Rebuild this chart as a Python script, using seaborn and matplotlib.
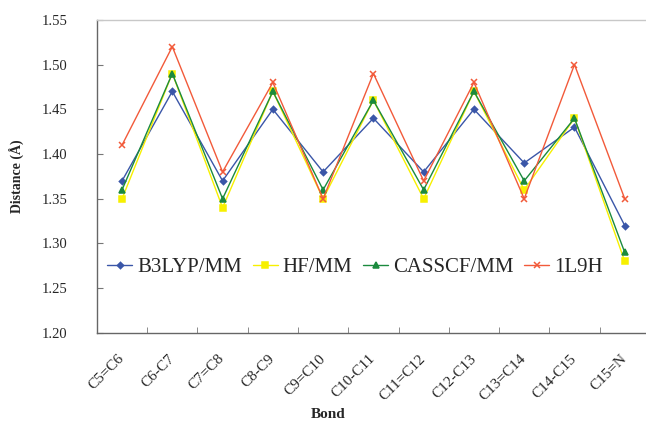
import numpy as np
import pandas as pd
import seaborn as sns
import matplotlib.pyplot as plt
from matplotlib.ticker import FixedLocator, NullFormatter

# =========================
# DATA
# =========================
bonds = ["C5=C6", "C6-C7", "C7=C8", "C8-C9", "C9=C10", "C10-C11",
         "C11=C12", "C12-C13", "C13=C14", "C14-C15", "C15=N"]
b3lyp = [1.37, 1.47, 1.37, 1.45, 1.38, 1.44, 1.38, 1.45, 1.39, 1.43, 1.32]
hf = [1.35, 1.49, 1.34, 1.47, 1.35, 1.46, 1.35, 1.47, 1.36, 1.44, 1.28]
casscf = [1.36, 1.49, 1.35, 1.47, 1.36, 1.46, 1.36, 1.47, 1.37, 1.44, 1.29]
l9h = [1.41, 1.52, 1.38, 1.48, 1.35, 1.49, 1.37, 1.48, 1.35, 1.50, 1.35]

series_names = ["B3LYP/MM", "HF/MM", "CASSCF/MM", "1L9H"]
y_ticks = [1.20, 1.25, 1.30, 1.35, 1.40, 1.45, 1.50, 1.55]

colors = {"B3LYP/MM": "#3a56a8", "HF/MM": "#f7f000",
          "CASSCF/MM": "#1b8a3e", "1L9H": "#f25a3a"}
markers = {"B3LYP/MM": "D", "HF/MM": "s", "CASSCF/MM": "^", "1L9H": "x"}
msizes = {"B3LYP/MM": 3.2, "HF/MM": 3.8, "CASSCF/MM": 4.2, "1L9H": 4.5}

rows = []
for name, vals in zip(series_names, [b3lyp, hf, casscf, l9h]):
    for i, v in enumerate(vals):
        rows.append({"pos": i, "bond": bonds[i], "value": v, "series": name})
df = pd.DataFrame(rows)

# =========================
# PLOT
# =========================
sns.set_style("white")
plt.rcParams['font.family'] = ['Liberation Serif', 'DejaVu Serif']

fig = plt.figure(figsize=(6.46, 4.22), dpi=100)
ax = fig.add_axes([0.150, 0.211, 0.856, 0.742])

for name in series_names:
    sub = df[df["series"] == name]
    sns.lineplot(data=sub, x="pos", y="value", ax=ax, color=colors[name],
                 marker=markers[name], markersize=msizes[name],
                 markeredgecolor=colors[name], markeredgewidth=1.1,
                 linewidth=1.0, label=name)

ax.set_xlim(-0.5, len(bonds) - 0.5)
ax.set_ylim(1.20, 1.55)
ax.set_yticks(y_ticks)
ax.set_yticklabels([f"{t:.2f}" for t in y_ticks], fontsize=10.5)

ax.set_xticks(range(len(bonds)))
ax.set_xticklabels(bonds, rotation=45, ha="right", va="center",
                   rotation_mode="anchor", fontsize=11)
ax.tick_params(axis="x", which="major", length=0, pad=17)
ax.xaxis.set_minor_locator(FixedLocator(np.arange(0.5, len(bonds) - 0.5, 1)))
ax.xaxis.set_minor_formatter(NullFormatter())
ax.tick_params(axis="x", which="minor", direction="in", length=4,
               color="#777777", bottom=True)
ax.tick_params(axis="y", direction="in", length=4, color="#777777", left=True,
               pad=21)

for side in ["left", "bottom"]:
    ax.spines[side].set_color("#666666")
    ax.spines[side].set_linewidth(1.0)
for side in ["top", "right"]:
    ax.spines[side].set_color("#c8c8c8")
    ax.spines[side].set_linewidth(1.0)

ax.set_xlabel("Bond", fontsize=11, fontweight="bold")
ax.set_ylabel("Distance (Å)", fontsize=10, fontweight="bold")
ax.xaxis.set_label_coords(0.418, -0.24)
ax.yaxis.set_label_coords(-0.13, 0.5)

handles, labels = ax.get_legend_handles_labels()
ax.legend(handles, labels, ncol=4, loc="center", bbox_to_anchor=(0.467, 0.21),
          frameon=False, fontsize=15, handlelength=1.2, handletextpad=0.25,
          columnspacing=0.5)

plt.savefig("out.png", dpi=100)
